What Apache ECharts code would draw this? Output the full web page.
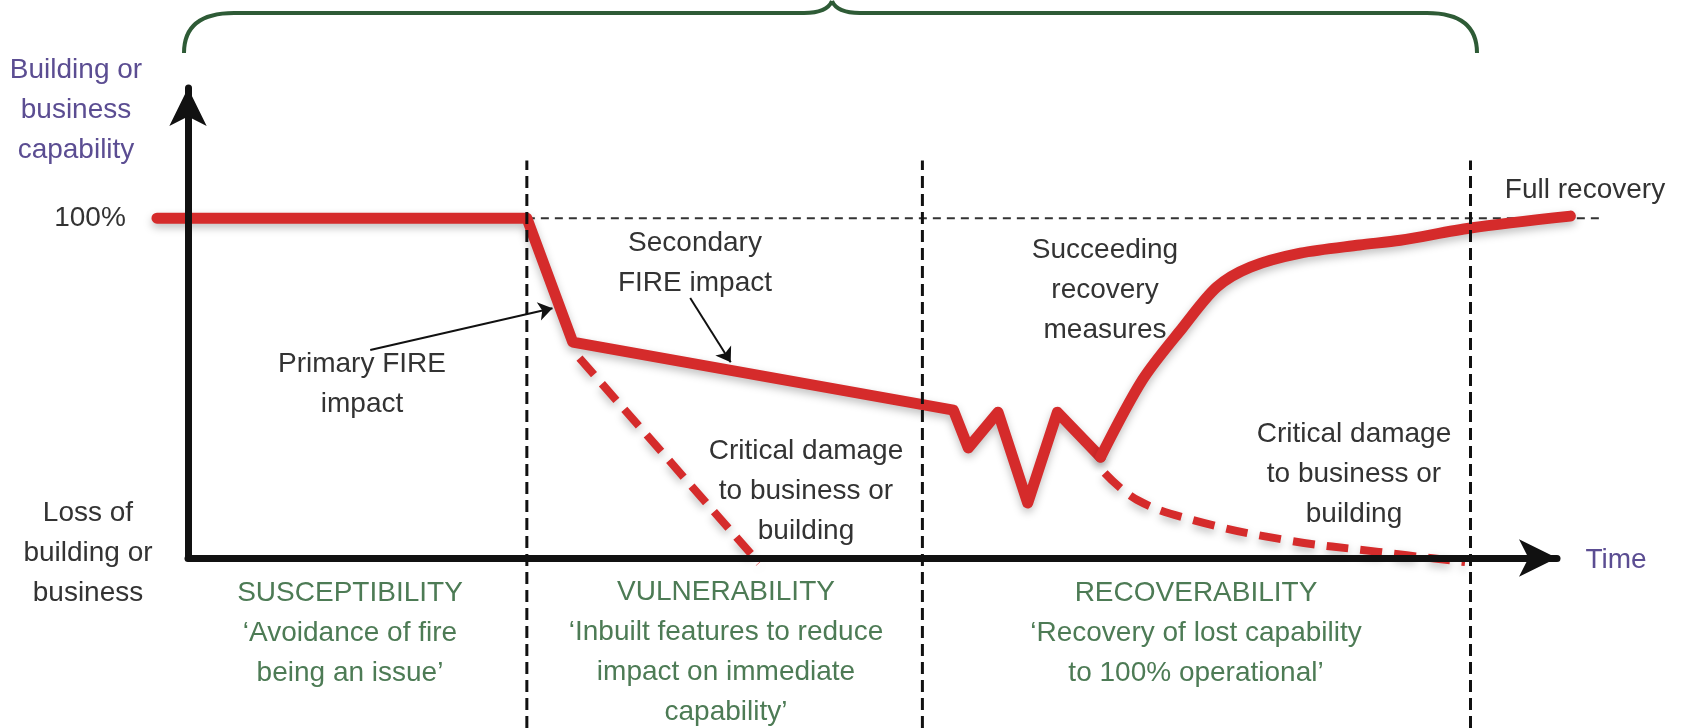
<!DOCTYPE html>
<html>
<head>
<meta charset="utf-8">
<script src="https://cdn.jsdelivr.net/npm/echarts@6.0.0/dist/echarts.min.js"></script>
<style>
  html, body { margin: 0; padding: 0; background: #fff; }
  #chart { width: 1682px; height: 728px; }
</style>
</head>
<body>
<div id="chart"></div>
<script>
// capability curve (time units 0..100, capability in %)
var mainX = [-2.3, 25.1, 28.5, 56.7, 57.8, 60.0, 62.2, 64.4, 67.6];
var mainY = [100, 100, 63.5, 43.5, 32.4, 42.9, 16.2, 42.9, 29.7];
var recoveryX = [67.6, 70.7, 73.7, 76.2, 78.7, 82.4, 86.8, 89.8, 95.0, 102.4];
var recoveryY = [29.7, 52.4, 67.9, 79.7, 85.6, 89.7, 92.1, 93.5, 97.1, 100.6];
// dashed "critical damage" branches
var critical1X = [29.0, 42.3];
var critical1Y = [58.8, -1.5];
var critical2X = [67.9, 70.3, 74.4, 81.3, 88.2, 94.6];
var critical2Y = [25.0, 17.1, 11.2, 5.3, 1.8, -1.2];
// phase boundaries and the 100% reference
var phaseBounds = [25.1, 54.4, 95.0];
var phaseSpan = [-50, 117];
var fullLevelX = [25.1, 104.6];
var fullLevel = 100;
// annotation pointers [from, to]
var primaryPtr = [[13.5, 61.2], [27.0, 73.5]];
var secondaryPtr = [[37.2, 76.5], [40.2, 57.6]];

function pairs(xs, ys) {
  return xs.map(function (x, i) { return [x, ys[i]]; });
}

var RED = '#d52b2b';
var FONT = 'Liberation Sans, Arial, sans-serif';
var TXT = '#333', PURPLE = '#5b4d92', GREEN = '#4d7b55', BRACE = '#2e5b36';

function label(text, x, y, color) {
  return {
    type: 'text', x: x, y: y, z: 20,
    style: {
      text: text, fill: color || TXT, font: '28px ' + FONT,
      lineHeight: 40, align: 'center', verticalAlign: 'middle'
    }
  };
}

function curve(x1, y1, cx, cy, x2, y2) {
  return { type: 'bezierCurve', z: 20,
    shape: { x1: x1, y1: y1, cpx1: cx, cpy1: cy, x2: x2, y2: y2 },
    style: { stroke: BRACE, lineWidth: 4, fill: null } };
}
function seg(x1, y1, x2, y2) {
  return { type: 'line', z: 20,
    shape: { x1: x1, y1: y1, x2: x2, y2: y2 },
    style: { stroke: BRACE, lineWidth: 4 } };
}

var redShadow = { shadowColor: 'rgba(0,0,0,0.25)', shadowBlur: 8, shadowOffsetY: 4 };

// all data series live on grid 0 (wide, hidden axes) so nothing gets clipped at the arrows
var series = [];

phaseBounds.forEach(function (b) {
  series.push({
    type: 'line', symbol: 'none', clip: false, silent: true, z: 6,
    data: [[b, phaseSpan[0]], [b, phaseSpan[1]]],
    lineStyle: { color: '#111', width: 3, type: [12, 6] }
  });
});

series.push({
  type: 'line', symbol: 'none', clip: false, z: 1,
  data: [[fullLevelX[0], fullLevel], [fullLevelX[1], fullLevel]],
  lineStyle: { color: '#333', width: 2, type: [8, 6] }
});

series.push({
  type: 'line', symbol: 'none', clip: false, z: 3,
  data: pairs(critical1X, critical1Y),
  lineStyle: Object.assign({ color: RED, width: 8, type: [22, 12] }, redShadow)
});
series.push({
  type: 'line', symbol: 'none', clip: false, z: 3, smooth: 0.4,
  data: pairs(critical2X, critical2Y),
  lineStyle: Object.assign({ color: RED, width: 8, type: [22, 12] }, redShadow)
});
series.push({
  type: 'line', symbol: 'none', clip: false, z: 4,
  data: pairs(mainX, mainY),
  lineStyle: Object.assign({ color: RED, width: 11, join: 'round', cap: 'round' }, redShadow)
});
series.push({
  type: 'line', symbol: 'none', clip: false, z: 4, smooth: 0.3,
  data: pairs(recoveryX, recoveryY),
  lineStyle: Object.assign({ color: RED, width: 11, join: 'round', cap: 'round' }, redShadow)
});
series.push({
  type: 'lines', coordinateSystem: 'cartesian2d', z: 7,
  symbol: ['none', 'arrow'], symbolSize: 14,
  lineStyle: { color: '#111', width: 2, opacity: 1 },
  data: [{ coords: primaryPtr }, { coords: secondaryPtr }]
});

var hidden = {
  type: 'value', show: false,
  axisLine: { onZero: false }, splitLine: { show: false }
};
var shown = {
  type: 'value', z: 10,
  axisTick: { show: false }, axisLabel: { show: false }, splitLine: { show: false }
};
var arrowLine = { show: true, onZero: false, symbol: ['none', 'arrow'], symbolSize: [28, 38],
  lineStyle: { color: '#111', width: 7 } };

var option = {
  animation: false,
  grid: [
    { left: 134, right: 9, top: 88, bottom: 170 },
    { left: 188, right: 125, top: 88, bottom: 170 }
  ],
  xAxis: [
    Object.assign({}, hidden, { gridIndex: 0, min: -4, max: 110 }),
    Object.assign({}, shown, { gridIndex: 1, min: 0, max: 101.4, axisLine: arrowLine })
  ],
  yAxis: [
    Object.assign({}, hidden, { gridIndex: 0, min: 0, max: 138.3 }),
    Object.assign({}, shown, { gridIndex: 1, min: 0, max: 138.3, axisLine: arrowLine })
  ],
  series: series,
  graphic: [
    curve(184, 53, 184, 13, 234, 13),
    seg(234, 13, 804, 13),
    curve(804, 13, 827, 13, 832, 1),
    curve(832, 1, 837, 13, 860, 13),
    seg(860, 13, 1427, 13),
    curve(1427, 13, 1477, 13, 1477, 53),
    label('Building or\nbusiness\ncapability', 76, 110, PURPLE),
    label('100%', 90, 218),
    label('Loss of\nbuilding or\nbusiness', 88, 553),
    label('Time', 1616, 560, PURPLE),
    label('Full recovery', 1585, 190),
    label('Secondary\nFIRE impact', 695, 263),
    label('Primary FIRE\nimpact', 362, 384),
    label('Succeeding\nrecovery\nmeasures', 1105, 290),
    label('Critical damage\nto business or\nbuilding', 806, 491),
    label('Critical damage\nto business or\nbuilding', 1354, 474),
    label('SUSCEPTIBILITY\n\u2018Avoidance of fire\nbeing an issue\u2019', 350, 633, GREEN),
    label('VULNERABILITY\n\u2018Inbuilt features to reduce\nimpact on immediate\ncapability\u2019', 726, 652, GREEN),
    label('RECOVERABILITY\n\u2018Recovery of lost capability\nto 100% operational\u2019', 1196, 633, GREEN)
  ]
};

var chart = echarts.init(document.getElementById('chart'));
chart.setOption(option);
</script>
</body>
</html>
